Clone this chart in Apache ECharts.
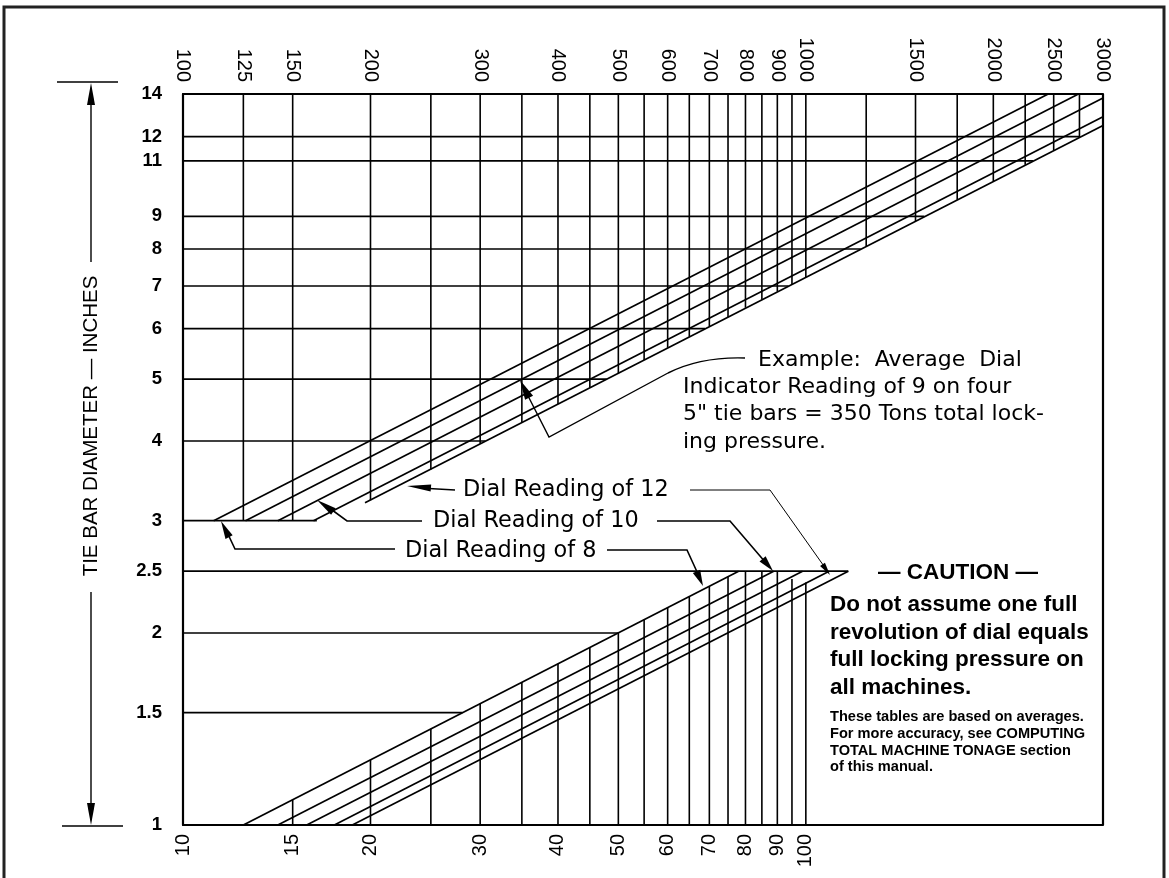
<!DOCTYPE html>
<html>
<head>
<meta charset="utf-8">
<script src="https://cdn.jsdelivr.net/npm/echarts@6/dist/echarts.min.js"></script>
<style>
html,body{margin:0;padding:0;background:#fff;}
#chart{width:1169px;height:878px;}
</style>
</head>
<body>
<div id="chart"></div>
<script>
// ---------------- DATA ----------------
const dialReadings = [8, 9, 10, 11, 12];

// tick labels
const topTonLabels = [100, 125, 150, 200, 300, 400, 500, 600, 700, 800, 900, 1000, 1500, 2000, 2500, 3000];
const bottomTonLabels = [10, 15, 20, 30, 40, 50, 60, 70, 80, 90, 100];
const diameterLabels = [1, 1.5, 2, 2.5, 3, 4, 5, 6, 7, 8, 9, 11, 12, 14];

// upper chart (tie bars 3"-14", top tonnage scale)
const upperDiameters = [12, 11, 9, 8, 7, 6, 5, 4, 3];
const upperDiameterLineEnds = [2756, 2316, 1550, 1225, 938, 689, 479, 306, 164];
const upperTons = [125, 150, 200, 250, 300, 350, 400, 450, 500, 550, 600, 650, 700, 750, 800, 850, 900, 950, 1000, 1250, 1500, 1750, 2000, 2250, 2500, 2750];
const upperTonLineEnds = [3, 3, 3.23, 3.61, 3.96, 4.28, 4.57, 4.85, 5.11, 5.36, 5.6, 5.83, 6.05, 6.26, 6.47, 6.66, 6.86, 7.04, 7.23, 8.08, 8.85, 9.56, 10.22, 10.84, 11.43, 11.99];
const upperDialStart = [[112, 3], [126, 3], [142, 3], [162, 3], [196, 3.2]];
const upperDialEnd = [[2450, 14], [2740, 14], [3000, 13.8], [3000, 12.9], [3000, 12.5]];

// lower chart (tie bars 1"-2.5", bottom tonnage scale)
const lowerDiameters = [2.5, 2, 1.5];
const lowerDiameterLineEnds = [117, 50, 28.1];
const lowerTons = [15, 20, 25, 30, 35, 40, 45, 50, 55, 60, 65, 70, 75, 80, 85, 90, 95, 100];
const lowerTonLineEnds = [1.096, 1.266, 1.415, 1.55, 1.675, 1.79, 1.899, 2.0, 2.099, 2.193, 2.282, 2.368, 2.452, 2.5, 2.5, 2.5, 2.43, 2.4];
const lowerDialStart = [[12.5, 1], [14.2, 1], [15.8, 1], [17.5, 1], [18.7, 1]];
const lowerDialEnd = [[78, 2.5], [88.8, 2.5], [98.8, 2.5], [109, 2.5], [117, 2.5]];

// texts
const yTitle = 'TIE BAR DIAMETER — INCHES';
const exampleLines = ['Example:  Average  Dial', 'Indicator Reading of 9 on four', '5" tie bars = 350 Tons total lock-', 'ing pressure.'];
const dialLabels = ['Dial Reading of 12', 'Dial Reading of 10', 'Dial Reading of 8'];
const cautionTitle = '— CAUTION —';
const cautionLines = ['Do not assume one full', 'revolution of dial equals', 'full locking pressure on', 'all machines.'];
const noteLines = ['These tables are based on averages.', 'For more accuracy, see COMPUTING', 'TOTAL MACHINE TONAGE section', 'of this manual.'];

// ---------------- CHART ----------------
const chart = echarts.init(document.getElementById('chart'), null, { renderer: 'canvas' });
const series = [];
const INK = '#000';
function seg(xIdx, a, b, w, name) {
  series.push({
    type: 'line', name: name || '', xAxisIndex: xIdx, yAxisIndex: 0,
    data: [a, b], symbol: 'none', silent: true, animation: false,
    lineStyle: { color: INK, width: w }, z: 3
  });
}
upperDiameters.forEach((d, i) => seg(0, [100, d], [upperDiameterLineEnds[i], d], 1.7));
upperTons.forEach((t, i) => seg(0, [t, 14], [t, upperTonLineEnds[i]], 1.6));
dialReadings.forEach((r, i) => seg(0, upperDialStart[i], upperDialEnd[i], 1.7, 'Dial ' + r));
seg(0, [3000, 1], [3000, 14], 2.2);
lowerDiameters.forEach((d, i) => seg(1, [10, d], [lowerDiameterLineEnds[i], d], 1.7));
lowerTons.forEach((t, i) => seg(1, [t, 1], [t, lowerTonLineEnds[i]], 1.6));
dialReadings.forEach((r, i) => seg(1, lowerDialStart[i], lowerDialEnd[i], 1.7, 'Dial ' + r));

const fmt = v => String(Math.round(v * 100) / 100);
const axisFont = { color: INK, fontFamily: 'Liberation Sans', fontSize: 20 };

// -------- annotation helpers --------
function arrow(tip, from, len, half) {
  const dx = tip[0] - from[0], dy = tip[1] - from[1];
  const L = Math.hypot(dx, dy), ux = dx / L, uy = dy / L;
  const bx = tip[0] - ux * len, by = tip[1] - uy * len;
  return { type: 'polygon', silent: true, z: 10,
    shape: { points: [tip, [bx - uy * half, by + ux * half], [bx + uy * half, by - ux * half]] },
    style: { fill: INK } };
}
function pline(points, w) {
  return { type: 'polyline', silent: true, z: 10, shape: { points: points }, style: { stroke: INK, lineWidth: w, fill: null } };
}
function txt(x, y, s, size, family, weight, align) {
  return { type: 'text', x: x, y: y, silent: true, z: 10,
    style: { text: s, fontSize: size, fontFamily: family, fontWeight: weight || 'normal', fill: INK,
      align: align || 'left', verticalAlign: 'middle' } };
}
const graphic = [];
// page frame
graphic.push({ type: 'rect', silent: true, shape: { x: 4, y: 7, width: 1160, height: 885 }, style: { fill: null, stroke: '#222', lineWidth: 3 } });
// y title with arrows
graphic.push({ type: 'text', x: 91, y: 426, rotation: Math.PI / 2, silent: true,
  style: { text: yTitle, fontSize: 20.5, fontFamily: 'Liberation Sans', fill: INK, align: 'center', verticalAlign: 'middle' } });
graphic.push(pline([[57, 82], [118, 82]], 1.6));
graphic.push(pline([[62, 826], [123, 826]], 1.6));
graphic.push(pline([[91, 100], [91, 262]], 1.4));
graphic.push(pline([[91, 592], [91, 808]], 1.4));
graphic.push(arrow([91, 83], [91, 200], 22, 4));
graphic.push(arrow([91, 825], [91, 700], 22, 4));

// example annotation
exampleLines.forEach((s, i) => graphic.push(txt(i === 0 ? 758 : 683, 360 + i * 27.3, s, 22, 'DejaVu Sans')));
graphic.push({ type: 'bezierCurve', silent: true, z: 10,
  shape: { x1: 745, y1: 358, cpx1: 715, cpy1: 357, cpx2: 690, cpy2: 362, x2: 668, y2: 373 },
  style: { stroke: INK, lineWidth: 1.4, fill: null } });
graphic.push(pline([[668, 373], [549, 437], [524, 388]], 1.4));
graphic.push(arrow([520, 380], [549, 437], 20, 4.5));

// dial reading labels
graphic.push(txt(463, 490, dialLabels[0], 22.4, 'DejaVu Sans'));
graphic.push(txt(433, 521, dialLabels[1], 22.4, 'DejaVu Sans'));
graphic.push(txt(405, 551, dialLabels[2], 22.4, 'DejaVu Sans'));
// 12 leaders
graphic.push(pline([[455, 490], [420, 488]], 1.6));
graphic.push(arrow([407, 486], [455, 490], 24, 3.5));
graphic.push(pline([[690, 490], [770, 490], [826, 569]], 1));
graphic.push(arrow([830, 575], [770, 490], 13, 3));
// 10 leaders
graphic.push(pline([[422, 521], [347, 521], [328, 507]], 1.6));
graphic.push(arrow([317, 500], [347, 521], 20, 4));
graphic.push(pline([[657, 521], [730, 521], [766, 563]], 1.6));
graphic.push(arrow([773, 571], [730, 521], 16, 4));
// 8 leaders
graphic.push(pline([[395, 549], [235, 549], [226, 530]], 1.6));
graphic.push(arrow([221, 521], [235, 549], 18, 4));
graphic.push(pline([[607, 550], [687, 550], [698, 574]], 1.6));
graphic.push(arrow([703, 586], [687, 550], 16, 4));

// caution block
graphic.push(txt(958, 573, cautionTitle, 22.5, 'Liberation Sans', 'bold', 'center'));
cautionLines.forEach((s, i) => graphic.push(txt(830, 605 + i * 27.5, s, 22.5, 'Liberation Sans', 'bold')));
noteLines.forEach((s, i) => graphic.push(txt(830, 717 + i * 16.8, s, 14.6, 'Liberation Sans', 'bold')));

chart.setOption({
  animation: false,
  backgroundColor: '#fff',
  grid: { left: 183, right: 66, top: 94, bottom: 53, containLabel: false },
  xAxis: [
    { type: 'log', logBase: 10, min: 100, max: 3000, position: 'top', gridIndex: 0,
      axisLine: { show: true, lineStyle: { color: INK, width: 2.2 } },
      axisTick: { show: false }, splitLine: { show: false }, minorTick: { show: false },
      axisLabel: Object.assign({ rotate: 90, margin: 12, customValues: topTonLabels, formatter: fmt }, axisFont) },
    { type: 'log', logBase: 10, min: 10, max: 300, position: 'bottom', gridIndex: 0,
      axisLine: { show: true, lineStyle: { color: INK, width: 2.2 } },
      axisTick: { show: false }, splitLine: { show: false }, minorTick: { show: false },
      axisLabel: Object.assign({ rotate: 90, margin: 9, customValues: bottomTonLabels, formatter: fmt }, axisFont) }
  ],
  yAxis: [
    { type: 'log', logBase: 10, min: 1, max: 14, gridIndex: 0,
      axisLine: { show: true, lineStyle: { color: INK, width: 2.2 } },
      axisTick: { show: false }, splitLine: { show: false }, minorTick: { show: false },
      axisLabel: { customValues: diameterLabels, formatter: fmt, margin: 21, color: INK, fontFamily: 'Liberation Sans', fontWeight: 'bold', fontSize: 18.5 } }
  ],
  series: series,
  graphic: graphic
});
</script>
</body>
</html>
